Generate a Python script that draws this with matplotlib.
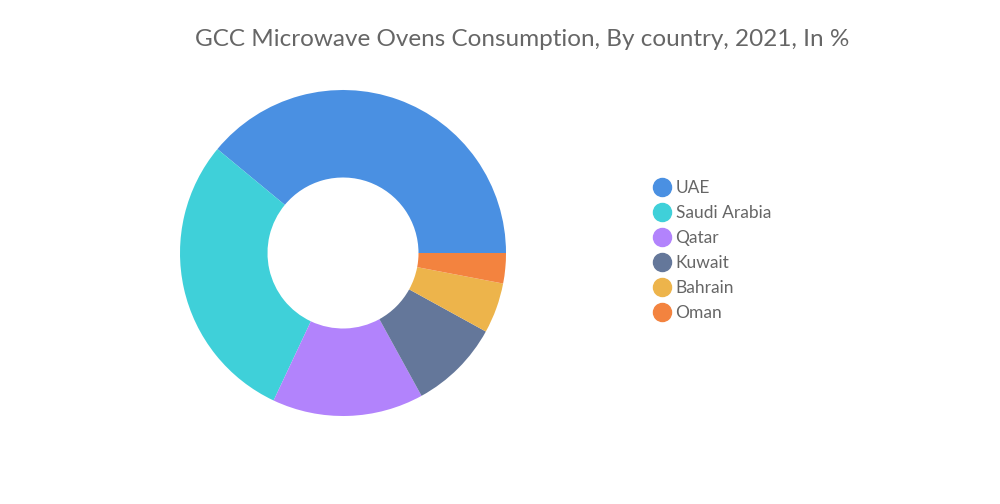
import matplotlib.pyplot as plt
from matplotlib.lines import Line2D

# Data
countries = ["UAE", "Saudi Arabia", "Qatar", "Kuwait", "Bahrain", "Oman"]
shares = [39, 29, 15, 9, 5, 3]
colors = ["#4A90E2", "#3FD0D9", "#B283FC", "#64779A", "#EDB44B", "#F3833F"]

plt.rcParams["font.family"] = ["Lato", "DejaVu Sans"]

W, H = 1000, 504
fig = plt.figure(figsize=(W / 100, H / 100), dpi=100)
fig.patch.set_facecolor("white")

# pie axes: centre (343, 253) px from top-left, outer radius ~163 px
cx, cy, r = 343, 253, 163
ax = fig.add_axes([(cx - r) / W, (H - cy - r) / H, 2 * r / W, 2 * r / H])
ax.pie(
    shares,
    colors=colors,
    startangle=0,
    counterclock=True,
    radius=1,
    wedgeprops=dict(width=1 - 75.5 / 163, linewidth=0),
)
ax.set_xlim(-1, 1)
ax.set_ylim(-1, 1)
ax.set_aspect("equal")
ax.axis("off")

fig.text(522 / W, 1 - 39 / H, "GCC Microwave Ovens Consumption, By country, 2021, In %",
         ha="center", va="center", fontsize=17.5, color="#666666")

handles = [Line2D([], [], marker="o", linestyle="none", markersize=13,
                  markerfacecolor=c, markeredgecolor=c) for c in colors]
fig.legend(handles, countries, loc="upper left",
           bbox_to_anchor=(653 / W, 1 - 180 / H), frameon=False,
           fontsize=12.5, labelcolor="#666666", handlelength=1.0,
           handletextpad=0.3, labelspacing=0.52, borderaxespad=0, borderpad=0)

fig.savefig("out.png", dpi=100, facecolor="white")
